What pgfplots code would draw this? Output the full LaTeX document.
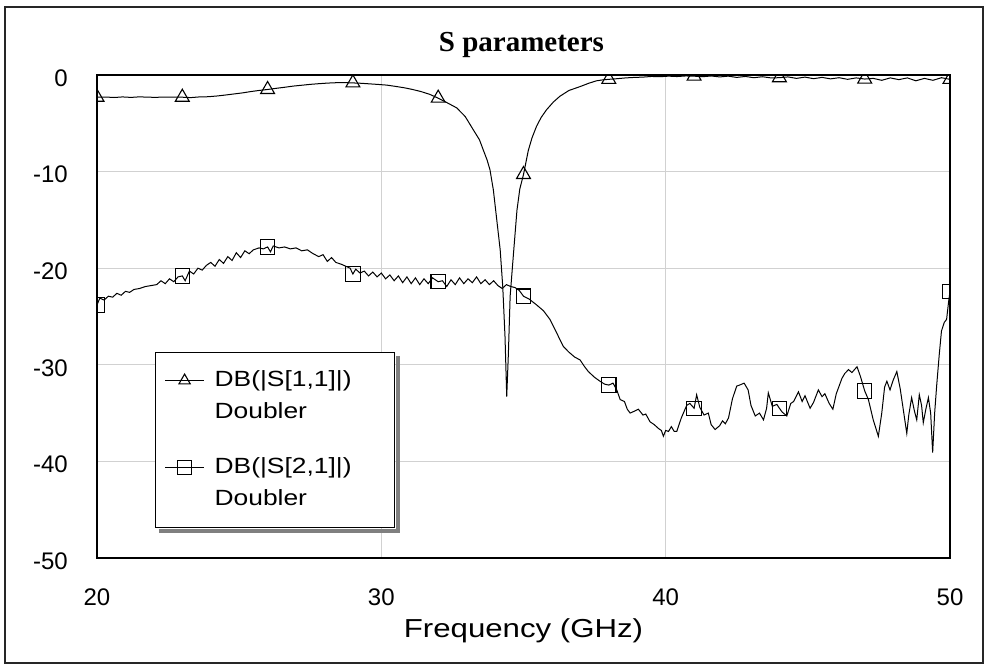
\documentclass[border=0pt]{standalone}
\usepackage{pgfplots}
\pgfplotsset{compat=1.18}
\usepackage{pgfplotstable}
\usepackage{graphicx}
\usepackage{fontspec}
\setmainfont{Liberation Sans}
\newfontfamily\titlefont{Liberation Serif}

\pgfplotstableread{
f db
20.0 -2.30
20.3 -2.28
20.6 -2.33
20.9 -2.27
21.2 -2.32
21.5 -2.26
21.8 -2.30
22.1 -2.31
22.4 -2.28
22.7 -2.30
23.0 -2.30
23.3 -2.34
23.6 -2.27
23.9 -2.25
24.2 -2.18
24.5 -2.08
24.8 -1.97
25.1 -1.86
25.4 -1.72
25.7 -1.60
26.0 -1.50
26.3 -1.38
26.6 -1.27
26.9 -1.15
27.2 -1.06
27.5 -0.97
27.8 -0.90
28.1 -0.84
28.4 -0.80
28.7 -0.79
29.0 -0.82
29.3 -0.86
29.6 -0.92
29.9 -0.98
30.2 -1.05
30.5 -1.18
30.8 -1.32
31.1 -1.50
31.4 -1.72
31.7 -2.00
32.0 -2.40
32.3 -2.85
32.65 -3.40
32.95 -4.30
33.24 -5.70
33.45 -6.70
33.59 -7.80
33.72 -8.80
33.82 -9.80
33.94 -11.9
34.06 -15.0
34.18 -18.1
34.27 -21.9
34.35 -27.1
34.41 -33.3
34.47 -28.7
34.53 -22.9
34.65 -18.4
34.77 -14.0
34.87 -11.8
35.00 -10.3
35.17 -7.8
35.30 -6.5
35.46 -5.3
35.62 -4.4
35.81 -3.6
36.05 -2.8
36.28 -2.2
36.6 -1.6
36.99 -1.2
37.3 -0.85
37.57 -0.6
37.8 -0.5
38.0 -0.45
38.3 -0.38
38.6 -0.30
38.9 -0.25
39.2 -0.22
39.5 -0.15
39.8 -0.18
40.1 -0.12
40.4 -0.16
40.7 -0.10
41.0 -0.12
41.3 -0.18
41.6 -0.10
41.9 -0.20
42.2 -0.12
42.5 -0.25
42.8 -0.15
43.1 -0.28
43.4 -0.18
43.7 -0.30
44.0 -0.28
44.3 -0.20
44.6 -0.35
44.9 -0.22
45.2 -0.38
45.5 -0.25
45.8 -0.40
46.1 -0.28
46.4 -0.45
46.7 -0.30
47.0 -0.42
47.3 -0.35
47.6 -0.55
47.9 -0.30
48.2 -0.48
48.5 -0.30
48.8 -0.60
49.1 -0.35
49.4 -0.55
49.7 -0.28
50.0 -0.45
}\sone

\pgfplotstableread{
f db
20 -2.30
23 -2.30
26 -1.50
29 -0.82
32 -2.40
35 -10.3
38 -0.45
41 -0.12
44 -0.28
47 -0.42
50 -0.45
}\sonem

\pgfplotstableread{
f db
20.0 -23.8
20.1 -23.1
20.25 -23.3
20.4 -22.9
20.55 -23.0
20.7 -22.6
20.85 -22.8
21.0 -22.4
21.15 -22.5
21.3 -22.2
21.5 -22.1
21.7 -21.9
21.9 -21.8
22.1 -21.7
22.25 -21.3
22.4 -21.6
22.55 -21.1
22.7 -21.4
22.85 -20.9
23.0 -20.8
23.1 -21.3
23.25 -20.3
23.4 -20.6
23.55 -20.0
23.7 -20.2
23.85 -19.7
24.0 -19.4
24.15 -19.8
24.3 -19.1
24.45 -19.5
24.6 -18.8
24.75 -19.2
24.9 -18.4
25.05 -18.9
25.2 -18.2
25.35 -18.5
25.5 -18.1
25.7 -17.9
25.85 -18.0
26.0 -17.8
26.1 -18.3
26.2 -17.7
26.4 -17.9
26.6 -17.8
26.8 -18.0
27.0 -17.9
27.2 -18.2
27.4 -18.1
27.6 -18.5
27.8 -18.8
27.95 -18.6
28.1 -19.3
28.25 -18.9
28.4 -19.4
28.6 -19.6
28.75 -19.8
28.9 -20.0
29.0 -20.6
29.1 -20.1
29.25 -20.5
29.4 -20.3
29.55 -20.8
29.7 -20.4
29.85 -20.9
30.0 -20.5
30.15 -21.1
30.3 -20.7
30.45 -21.3
30.6 -20.8
30.75 -21.5
30.9 -20.9
31.05 -21.6
31.2 -21.0
31.35 -21.7
31.5 -21.1
31.65 -21.6
31.8 -21.0
32.0 -21.4
32.15 -21.3
32.3 -21.9
32.45 -21.2
32.6 -21.7
32.75 -21.0
32.9 -21.6
33.05 -21.1
33.2 -21.5
33.35 -20.9
33.5 -21.6
33.65 -21.2
33.8 -21.7
33.95 -21.3
34.1 -21.8
34.25 -22.1
34.4 -21.7
34.55 -21.9
34.7 -22.0
34.85 -22.3
35.0 -22.9
35.2 -23.2
35.46 -23.8
35.7 -24.4
35.93 -25.3
36.15 -26.6
36.4 -28.1
36.6 -28.7
36.8 -29.2
36.99 -29.5
37.15 -30.2
37.28 -30.7
37.5 -31.3
37.69 -31.7
37.85 -32.0
38.0 -32.1
38.15 -31.9
38.28 -32.6
38.4 -33.6
38.55 -33.8
38.65 -34.6
38.75 -35.0
38.9 -34.8
39.04 -34.6
39.2 -35.2
39.3 -35.1
39.45 -35.9
39.6 -36.2
39.75 -36.6
39.85 -36.8
39.92 -37.4
40.0 -36.8
40.1 -36.9
40.2 -36.4
40.3 -36.9
40.39 -36.9
40.55 -35.5
40.74 -34.2
40.85 -34.0
41.0 -34.5
41.09 -33.1
41.2 -34.4
41.35 -35.2
41.5 -35.0
41.6 -36.2
41.74 -36.7
41.9 -36.3
42.0 -35.8
42.1 -36.1
42.21 -35.5
42.35 -33.5
42.5 -32.2
42.6 -32.1
42.76 -31.9
42.9 -32.6
43.0 -34.2
43.15 -35.3
43.3 -35.0
43.44 -35.7
43.55 -34.5
43.61 -32.9
43.75 -34.3
43.91 -34.1
44.0 -34.5
44.1 -34.9
44.26 -35.3
44.4 -34.0
44.5 -33.8
44.67 -32.8
44.8 -33.8
44.9 -33.2
45.08 -34.5
45.2 -33.9
45.37 -32.6
45.5 -33.3
45.6 -33.0
45.75 -34.0
45.88 -34.6
46.0 -33.0
46.2 -31.4
46.3 -30.9
46.43 -30.5
46.55 -30.8
46.73 -30.2
46.85 -31.2
47.0 -32.7
47.13 -33.6
47.3 -35.7
47.48 -37.4
47.6 -35.0
47.7 -32.3
47.78 -31.7
47.89 -32.6
48.0 -31.6
48.13 -30.7
48.25 -32.5
48.4 -35.5
48.48 -37.1
48.55 -35.2
48.65 -33.4
48.75 -34.8
48.83 -35.7
48.92 -33.1
49.0 -34.2
49.06 -36.0
49.15 -34.6
49.24 -33.4
49.32 -35.0
49.39 -39.1
49.46 -35.0
49.53 -32.2
49.62 -29.0
49.7 -26.5
49.8 -25.6
49.88 -25.3
49.95 -23.5
50.0 -22.4
}\stwo

\pgfplotstableread{
f db
20 -23.8
23 -20.8
26 -17.8
29 -20.6
32 -21.4
35 -22.9
38 -32.1
41 -34.5
44 -34.5
47 -32.7
50 -22.4
}\stwom

\begin{document}
\begin{tikzpicture}[x=1pt,y=1pt]
\path[use as bounding box] (0,0) rectangle (988,668);
\draw[line width=1.2pt, black!85] (5,5) rectangle (983,661);
\begin{axis}[
  at={(97pt,110pt)}, anchor=south west,
  scale only axis, width=853pt, height=483pt,
  xmin=20, xmax=50, ymin=-50, ymax=0,
  xtick={20,30,40,50}, xticklabels={20,30,40,50},
  ytick={-50,-40,-30,-20,-10,0}, yticklabels={-50,-40,-30,-20,-10,0},
  major tick length=0pt,
  grid=major, grid style={line width=1.2pt, black!18},
  axis line style={line width=1.2pt, black},
  tick label style={font=\fontsize{24}{24}\selectfont, inner sep=0pt},
  xticklabel style={anchor=base, yshift=-47.5pt},
  yticklabel style={anchor=east, xshift=-29pt, yshift=-3pt},
  title={\titlefont\bfseries S parameters},
  title style={at={(axis description cs:0.5,1)}, anchor=base, yshift=17pt, xshift=-2pt, font=\fontsize{29}{29}\selectfont, inner sep=0pt},
  xlabel={\scalebox{1.2}[1]{Frequency (GHz)}},
  xlabel style={at={(axis description cs:0.5,0)}, anchor=base, yshift=-80pt, font=\fontsize{26}{26}\selectfont, inner sep=0pt},
  clip marker paths=true,
  legend cell align=left,
  legend image code/.code={\draw[mark repeat=2, mark phase=2, #1] plot coordinates {(0pt,0pt) (19.5pt,0pt) (39pt,0pt)};},
  legend style={name=leg, at={(axis description cs:0.068,0.4265)}, anchor=north west, draw=black, line width=1.2pt, fill=white, inner xsep=9pt, inner ysep=12pt, row sep=0pt, column sep=10pt, nodes={inner sep=0pt, text depth=, text height=, font=\fontsize{22}{22}\selectfont}},
]
\addplot[black, line width=1pt, forget plot] table[x=f,y=db]{\sone};
\addplot[black, only marks, mark=triangle, mark size=8pt, mark options={line width=1.1pt}, forget plot] table[x=f,y=db]{\sonem};
\addplot[black, line width=1pt, forget plot] table[x=f,y=db]{\stwo};
\addplot[black, only marks, mark=square, mark size=7.2pt, mark options={line width=1.1pt}, forget plot] table[x=f,y=db]{\stwom};

\addlegendimage{black, line width=1pt, mark=triangle, mark size=6.5pt, mark options={solid, line width=1.1pt}}
\addlegendentry{\makebox[171pt][l]{\scalebox{1.2}[1]{DB(|S[1,1]|)}}\rule[-10pt]{0pt}{32pt}}
\addlegendimage{empty legend}
\addlegendentry{\makebox[171pt][l]{\scalebox{1.2}[1]{Doubler}}\rule[-33pt]{0pt}{55pt}}
\addlegendimage{black, line width=1pt, mark=square, mark size=7pt, mark options={solid, line width=1.1pt}}
\addlegendentry{\makebox[171pt][l]{\scalebox{1.2}[1]{DB(|S[2,1]|)}}\rule[-10pt]{0pt}{32pt}}
\addlegendimage{empty legend}
\addlegendentry{\makebox[171pt][l]{\scalebox{1.2}[1]{Doubler}}\rule[-10pt]{0pt}{32pt}}
\end{axis}
% drop shadow of the legend box (bottom and right strips)
\fill[black!50] ([xshift=4pt,yshift=-0.6pt]leg.south west) rectangle ([xshift=4.6pt,yshift=-4.6pt]leg.south east);
\fill[black!50] ([xshift=0.6pt,yshift=-4pt]leg.north east) rectangle ([xshift=4.6pt,yshift=-0.6pt]leg.south east);
\end{tikzpicture}
\end{document}
